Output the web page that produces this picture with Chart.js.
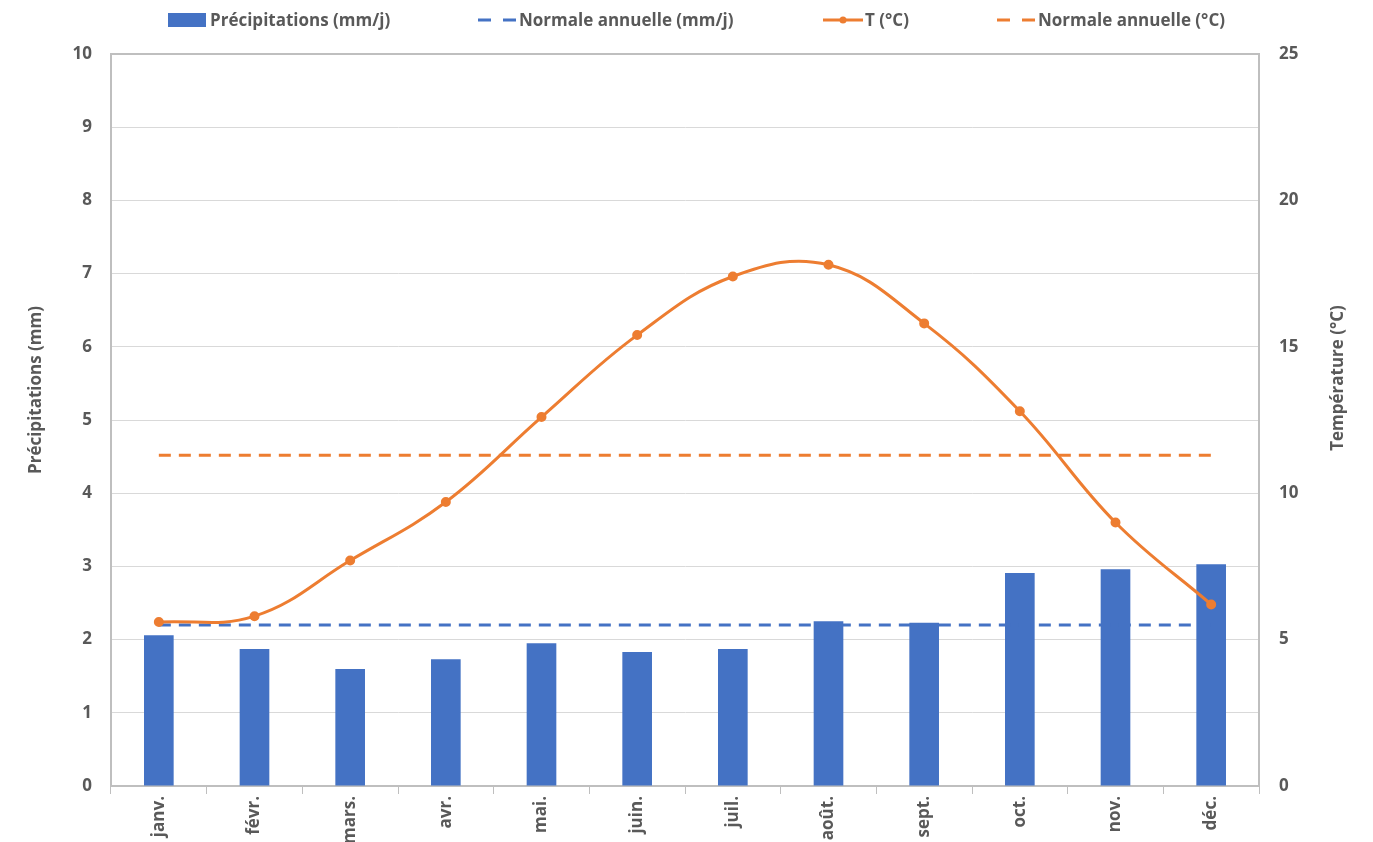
<!DOCTYPE html>
<html>
<head>
<meta charset="utf-8">
<script src="https://cdn.jsdelivr.net/npm/chart.js@4/dist/chart.umd.min.js"></script>
<style>
  html, body { margin: 0; padding: 0; background: #fff; }
  #wrap { width: 1373px; height: 842px; }
</style>
</head>
<body>
<div id="wrap"><canvas id="climChart"></canvas></div>
<script>
const months = ['janv.', 'févr.', 'mars.', 'avr.', 'mai.', 'juin.', 'juil.', 'août.', 'sept.', 'oct.', 'nov.', 'déc.'];
const precip = [2.06, 1.87, 1.60, 1.73, 1.95, 1.83, 1.87, 2.25, 2.23, 2.91, 2.96, 3.03];
const precipNormal = [2.2, 2.2, 2.2, 2.2, 2.2, 2.2, 2.2, 2.2, 2.2, 2.2, 2.2, 2.2];
const temp = [5.6, 5.8, 7.7, 9.7, 12.6, 15.4, 17.4, 17.8, 15.8, 12.8, 9.0, 6.2];
const tempNormal = [11.3, 11.3, 11.3, 11.3, 11.3, 11.3, 11.3, 11.3, 11.3, 11.3, 11.3, 11.3];
const axisTitles = ['Précipitations (mm)', 'Température (°C)'];

const BLUE = '#4472C4';
const ORANGE = '#ED7D31';
const TEXT = '#595959';
const FONT = '"Open Sans", "DejaVu Sans", sans-serif';

// legend drawn by hand so the spacing looks like the Excel one
const topLegend = {
    id: 'topLegend',
    afterDraw(chart) {
        const ctx = chart.ctx;
        const y = 20;
        const starts = [168, 477, 823, 996];
        ctx.save();
        ctx.font = 'bold 17px ' + FONT;
        ctx.textBaseline = 'middle';
        chart.data.datasets.forEach((ds, i) => {
            const x = starts[i];
            ctx.strokeStyle = ds.borderColor;
            ctx.fillStyle = ds.backgroundColor;
            if (ds.type === 'bar') {
                ctx.fillRect(x, y - 7, 38, 14);
            } else if (ds.borderDash) {
                ctx.lineWidth = 3;
                ctx.setLineDash([13, 12]);
                ctx.beginPath();
                ctx.moveTo(x + 1, y);
                ctx.lineTo(x + 40, y);
                ctx.stroke();
                ctx.setLineDash([]);
            } else {
                ctx.lineWidth = 3;
                ctx.beginPath();
                ctx.moveTo(x, y);
                ctx.lineTo(x + 40, y);
                ctx.stroke();
                ctx.fillStyle = ds.pointBackgroundColor;
                ctx.beginPath();
                ctx.arc(x + 20, y, 3.5, 0, Math.PI * 2);
                ctx.fill();
            }
            ctx.fillStyle = TEXT;
            ctx.textAlign = 'left';
            ctx.fillText(ds.label, x + 42, y + 1);
        });
        ctx.restore();
    }
};

// frame round the plot area + both axis titles reading upward
const frame = {
    id: 'frame',
    beforeDatasetsDraw(chart) {
        const a = chart.chartArea;
        const ctx = chart.ctx;
        ctx.save();
        ctx.strokeStyle = '#bfbfbf';
        ctx.lineWidth = 2;
        ctx.strokeRect(a.left, a.top, a.right - a.left, a.bottom - a.top);
        ctx.restore();
    },
    afterDraw(chart) {
        const ctx = chart.ctx;
        const a = chart.chartArea;
        const midY = (a.top + a.bottom) / 2;
        ctx.save();
        ctx.font = 'bold 17px ' + FONT;
        ctx.fillStyle = TEXT;
        ctx.textAlign = 'center';
        ctx.textBaseline = 'middle';
        ctx.translate(36, midY - 30);
        ctx.rotate(-Math.PI / 2);
        ctx.fillText(axisTitles[0], 0, 0);
        ctx.restore();
        ctx.save();
        ctx.font = 'bold 17px ' + FONT;
        ctx.fillStyle = TEXT;
        ctx.textAlign = 'center';
        ctx.textBaseline = 'middle';
        ctx.translate(1338, midY - 42);
        ctx.rotate(-Math.PI / 2);
        ctx.fillText(axisTitles[1], 0, 0);
        ctx.restore();
    }
};

new Chart(document.getElementById('climChart'), {
    data: {
        labels: months,
        datasets: [{
            type: 'bar',
            label: 'Précipitations (mm/j)',
            data: precip,
            backgroundColor: BLUE,
            borderColor: BLUE,
            barPercentage: 0.31,
            categoryPercentage: 1,
            yAxisID: 'yP',
            order: 4
        }, {
            type: 'line',
            label: 'Normale annuelle (mm/j)',
            data: precipNormal,
            borderColor: BLUE,
            backgroundColor: BLUE,
            borderWidth: 3,
            borderDash: [12, 8],
            pointRadius: 0,
            yAxisID: 'yP',
            order: 3
        }, {
            type: 'line',
            label: 'T (°C)',
            data: temp,
            borderColor: ORANGE,
            backgroundColor: ORANGE,
            pointBackgroundColor: ORANGE,
            pointBorderColor: ORANGE,
            pointRadius: 3.5,
            borderWidth: 3,
            tension: 0.4,
            yAxisID: 'yT',
            order: 1
        }, {
            type: 'line',
            label: 'Normale annuelle (°C)',
            data: tempNormal,
            borderColor: ORANGE,
            backgroundColor: ORANGE,
            borderWidth: 3,
            borderDash: [12, 8],
            pointRadius: 0,
            yAxisID: 'yT',
            order: 2
        }]
    },
    options: {
        responsive: true,
        maintainAspectRatio: false,
        animation: false,
        layout: { padding: { top: 54, left: 0, right: 0, bottom: 0 } },
        plugins: {
            legend: { display: false },
            tooltip: { enabled: false }
        },
        scales: {
            x: {
                offset: true,
                grid: {
                    offset: true,
                    drawOnChartArea: false,
                    color: '#bfbfbf',
                    tickLength: 8
                },
                border: { color: '#bfbfbf', width: 2 },
                ticks: {
                    minRotation: 90,
                    maxRotation: 90,
                    padding: 2,
                    color: TEXT,
                    font: { family: FONT, size: 17, weight: 'bold' }
                },
                afterFit(scale) { scale.height = 56; }
            },
            yP: {
                position: 'left',
                min: 0,
                max: 10,
                ticks: {
                    stepSize: 1,
                    padding: 19,
                    color: TEXT,
                    font: { family: FONT, size: 17, weight: 'bold' }
                },
                grid: { color: '#d9d9d9', lineWidth: 1, drawTicks: false },
                border: { color: '#bfbfbf', width: 2 },
                afterFit(scale) { scale.width = 111; }
            },
            yT: {
                position: 'right',
                min: 0,
                max: 25,
                ticks: {
                    stepSize: 5,
                    padding: 20,
                    color: TEXT,
                    font: { family: FONT, size: 17, weight: 'bold' }
                },
                grid: { drawOnChartArea: false, drawTicks: false },
                border: { color: '#bfbfbf', width: 2 },
                afterFit(scale) { scale.width = 114; }
            }
        }
    },
    plugins: [topLegend, frame]
});
</script>
</body>
</html>
